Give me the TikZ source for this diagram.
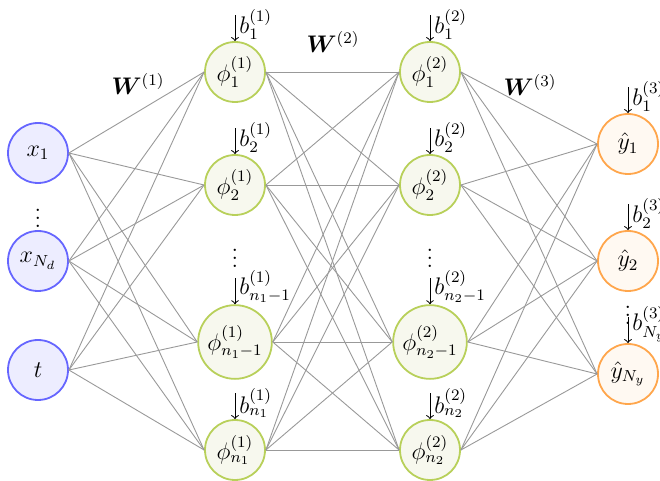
\documentclass[tikz,border=0pt]{standalone}
\usepackage{amsmath}
\usepackage{bm}
\begin{document}
\begin{tikzpicture}[x=0.5pt,y=-0.5pt,font=\fontsize{12}{14}\selectfont,
  neuron/.style={circle,minimum size=30pt,line width=0.9pt,inner sep=1.8pt},
  inp/.style={neuron,draw=blue!60,fill=blue!7},
  hid/.style={neuron,draw={rgb,255:red,184;green,208;blue,90},fill={rgb,255:red,247;green,248;blue,238}},
  outp/.style={neuron,draw=orange!70,fill=orange!5},
  conn/.style={gray!80,line width=0.45pt},
  dotsnode/.style={inner sep=0pt},
  biasarrow/.style={<-,line width=0.5pt},
  biaslbl/.style={anchor=south west,inner sep=0.5pt,xshift=1.5pt}
]
\useasboundingbox (0,0) rectangle (660,481);
% input layer
\node[inp] (i1) at (38,153) {$x_1$};
\node[inp] (i2) at (38,261) {$x_{N_d}$};
\node[inp] (i3) at (38,370) {$t$};
\node[dotsnode] (id) at (38,212) {$\vdots$};
% hidden layer 1
\node[hid] (a1) at (235,72) {$\phi^{(1)}_1$};
\node[hid] (a2) at (235,185) {$\phi^{(1)}_2$};
\node[hid] (a3) at (235,342) {$\phi^{(1)}_{n_1-1}$};
\node[hid] (a4) at (235,450) {$\phi^{(1)}_{n_1}$};
\node[dotsnode] (ad) at (235,252) {$\vdots$};
% hidden layer 2
\node[hid] (b1) at (430,72) {$\phi^{(2)}_1$};
\node[hid] (b2) at (430,185) {$\phi^{(2)}_2$};
\node[hid] (b3) at (430,342) {$\phi^{(2)}_{n_2-1}$};
\node[hid] (b4) at (430,450) {$\phi^{(2)}_{n_2}$};
\node[dotsnode] (bd) at (430,252) {$\vdots$};
% output layer
\node[outp] (o1) at (628,144) {$\hat{y}_1$};
\node[outp] (o2) at (628,261) {$\hat{y}_2$};
\node[outp] (o3) at (628,374) {$\hat{y}_{N_y}$};
\node[dotsnode] (od) at (628,309) {$\vdots$};
% connections
\foreach \s in {i1,i2,i3}{\foreach \t in {a1,a2,a3,a4}{\draw[conn] (\s.east) -- (\t.west);}}
\foreach \s in {a1,a2,a3,a4}{\foreach \t in {b1,b2,b3,b4}{\draw[conn] (\s.east) -- (\t.west);}}
\foreach \s in {b1,b2,b3,b4}{\foreach \t in {o1,o2,o3}{\draw[conn] (\s.east) -- (\t.west);}}
% weight labels
\node (w1) at (138,84) {$\bm{W}^{(1)}$};
\node (w2) at (333,42) {$\bm{W}^{(2)}$};
\node (w3) at (530,85) {$\bm{W}^{(3)}$};
% biases
\foreach \n/\lbl in {a1/b^{(1)}_1,a2/b^{(1)}_2,a3/b^{(1)}_{n_1-1},a4/b^{(1)}_{n_1},
                     b1/b^{(2)}_1,b2/b^{(2)}_2,b3/b^{(2)}_{n_2-1},b4/b^{(2)}_{n_2},
                     o1/b^{(3)}_1,o2/b^{(3)}_2,o3/b^{(3)}_{N_y}}{
  \coordinate (\n top) at ([yshift=13pt]\n.north);
  \draw[biasarrow] (\n.north) -- (\n top);
  \node[biaslbl] (\n lbl) at (\n.north) {$\lbl$};
}
\end{tikzpicture}
\end{document}
